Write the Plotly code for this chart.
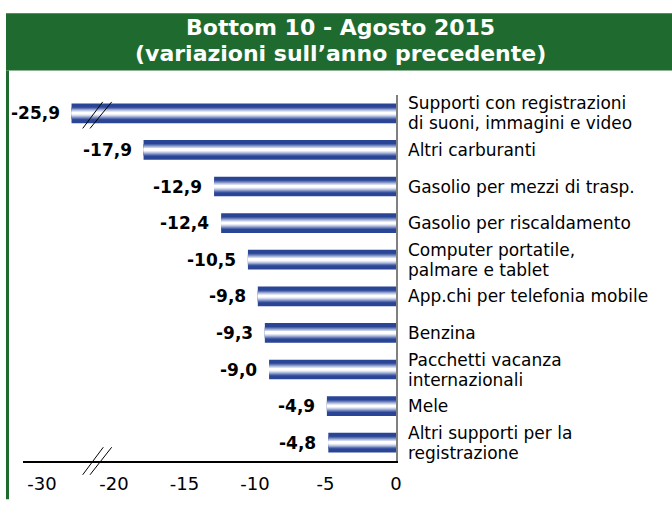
import plotly.graph_objects as go

# ---------------- data ----------------
categories = [
    "Supporti con registrazioni\ndi suoni, immagini e video",
    "Altri carburanti",
    "Gasolio per mezzi di trasp.",
    "Gasolio per riscaldamento",
    "Computer portatile,\npalmare e tablet",
    "App.chi per telefonia mobile",
    "Benzina",
    "Pacchetti vacanza\ninternazionali",
    "Mele",
    "Altri supporti per la\nregistrazione",
]
values = [-25.9, -17.9, -12.9, -12.4, -10.5, -9.8, -9.3, -9.0, -4.9, -4.8]
tick_values = [-30, -20, -15, -10, -5, 0]
title_lines = ["Bottom 10 - Agosto 2015", "(variazioni sull\u2019anno precedente)"]

# ---------------- broken axis scale ----------------
BREAK = -20.0
K = 0.51  # compression below the break


def axis_pos(v):
    return v if v >= BREAK else BREAK + (v - BREAK) * K


# ---------------- geometry helpers ----------------
W, H = 672, 506
L, R, T, B = 23, 276, 95, 39


def px(p):
    return (p - L) / (W - L - R)


def py(p):
    return (H - B - p) / (H - T - B)


GREEN = "#1F6B2F"
FONT = "DejaVu Sans"

ys = list(range(len(values)))
xs = [axis_pos(v) for v in values]
unit_px = (H - T - B) / len(values)

fig = go.Figure()

# gradient bars: stacked overlay layers from dark edge to white core
layers = [
    (20, "#2A4596"),
    (12, "#4B63A9"),
    (10, "#7386BE"),
    (8, "#9EABD3"),
    (6, "#C7CFE7"),
    (4, "#E9ECF6"),
    (2, "#FFFFFF"),
]
for h, c in layers:
    fig.add_trace(go.Bar(
        x=xs, y=ys, orientation="h", width=h / unit_px,
        marker=dict(color=c, line=dict(width=0)),
        hoverinfo="skip", showlegend=False,
    ))

annotations = []
# value labels
for x, y, v in zip(xs, ys, values):
    annotations.append(dict(
        x=x, y=y, xref="x", yref="y", text=f"{v:.1f}".replace(".", ","),
        showarrow=False, xanchor="right", yanchor="middle", xshift=-10,
        font=dict(family=FONT, size=17, color="black", weight="bold"),
    ))
# category labels
for y, cat in zip(ys, categories):
    lines = cat.split("\n")
    n = len(lines)
    for j, line in enumerate(lines):
        shift = 0 if n == 1 else (10 if j == 0 else -10)
        annotations.append(dict(
            x=0, y=y, xref="x", yref="y", text=line, showarrow=False,
            xanchor="left", yanchor="middle", xshift=10, yshift=shift,
            font=dict(family=FONT, size=17, color="black"),
        ))
# title
for line, ypix in zip(title_lines, [26.5, 52.5]):
    annotations.append(dict(
        x=px(340), y=py(ypix), xref="paper", yref="paper", text=line,
        showarrow=False, xanchor="center", yanchor="middle",
        font=dict(family=FONT, size=22, color="white", weight="bold"),
    ))

shapes = [
    # header band
    dict(type="rect", xref="paper", yref="paper", x0=px(6), x1=px(672),
         y0=py(70), y1=py(12), fillcolor=GREEN, line=dict(width=0), layer="below"),
    # left frame line
    dict(type="line", xref="paper", yref="paper", x0=px(7.5), x1=px(7.5),
         y0=py(70), y1=py(506), line=dict(color=GREEN, width=3)),
    # break marks on first bar
    dict(type="line", xref="paper", yref="paper", x0=px(82.7), x1=px(102.7),
         y0=py(129), y1=py(102), line=dict(color="black", width=1)),
    dict(type="line", xref="paper", yref="paper", x0=px(90), x1=px(111.7),
         y0=py(129), y1=py(102), line=dict(color="black", width=1)),
    # break marks on axis
    dict(type="line", xref="paper", yref="paper", x0=px(82.7), x1=px(103.3),
         y0=py(481), y1=py(453), line=dict(color="black", width=1)),
    dict(type="line", xref="paper", yref="paper", x0=px(90), x1=px(111.7),
         y0=py(481), y1=py(453), line=dict(color="black", width=1)),
]

fig.update_layout(
    width=W, height=H, autosize=False,
    margin=dict(l=L, r=R, t=T, b=B, pad=0),
    paper_bgcolor="white", plot_bgcolor="white",
    barmode="overlay", showlegend=False,
    annotations=annotations, shapes=shapes,
    xaxis=dict(
        range=[-26.45, 0], tickvals=[axis_pos(t) for t in tick_values],
        ticktext=[str(t) for t in tick_values],
        showgrid=False, zeroline=False, showline=True,
        linecolor="black", linewidth=1.5,
        ticks="outside", ticklen=6, tickcolor="rgba(0,0,0,0)",
        tickfont=dict(family=FONT, size=18, color="black"),
        fixedrange=True,
    ),
    yaxis=dict(
        range=[len(values) - 0.5, -0.5], showticklabels=False,
        showgrid=False, zeroline=False, showline=True, side="right",
        linecolor="#808080", linewidth=2, ticks="", fixedrange=True,
    ),
)

fig.write_html(
    "out.html",
    config={"displayModeBar": False},
    post_script="document.body.style.margin='0';document.body.style.overflow='hidden';",
)
